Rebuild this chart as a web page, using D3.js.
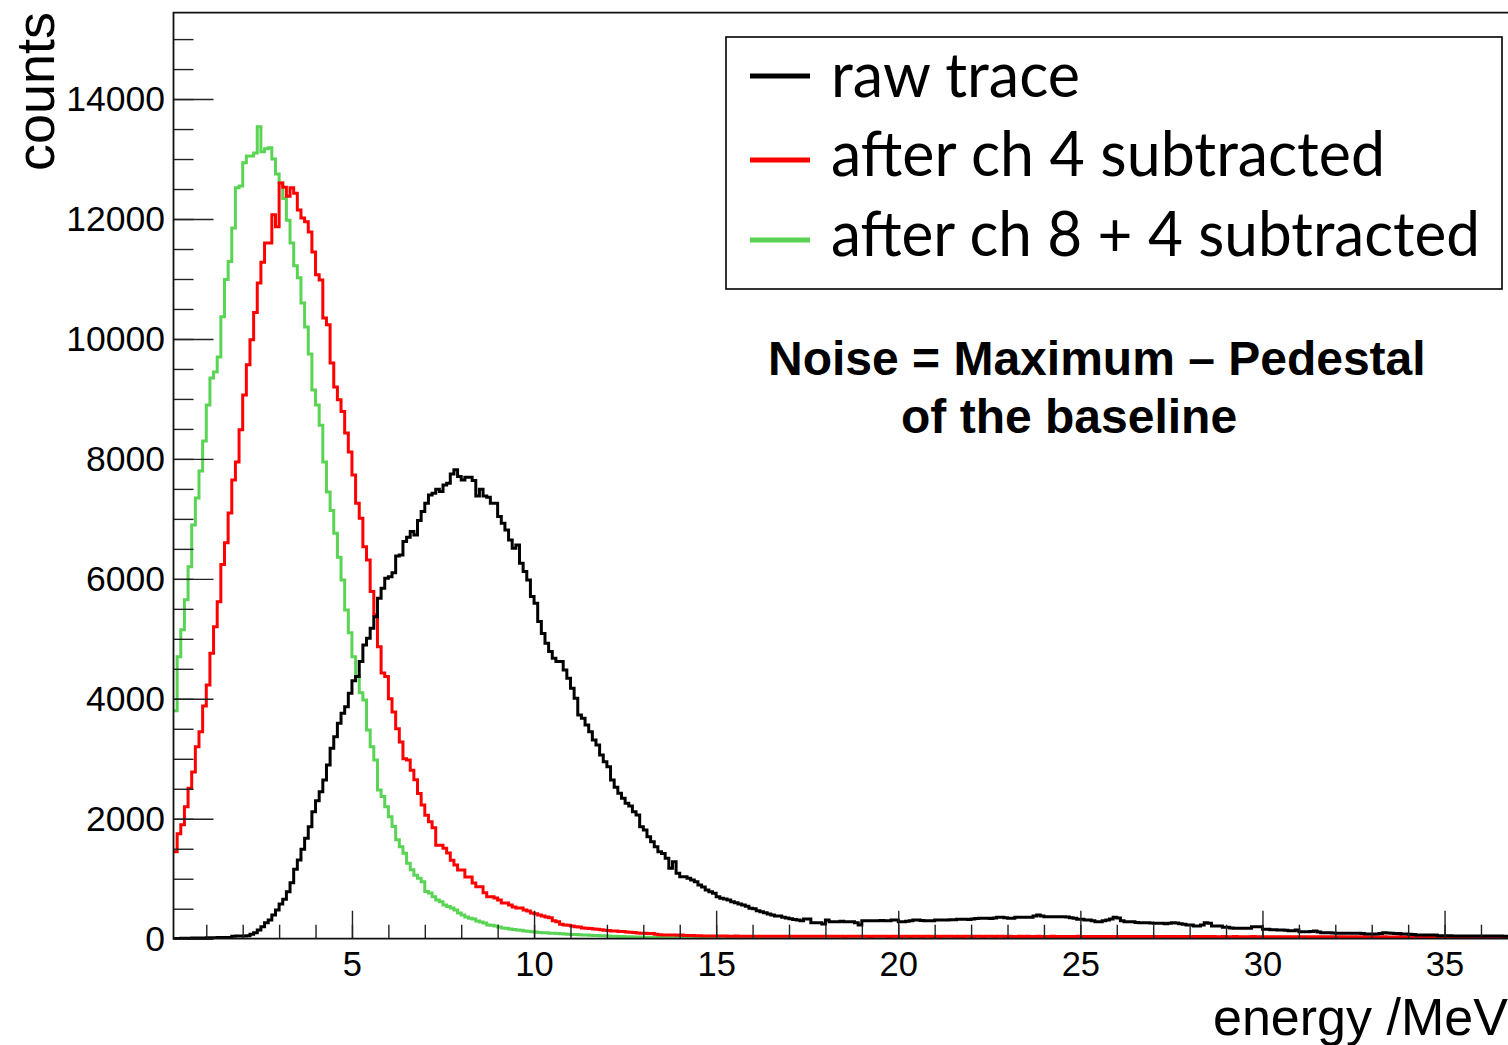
<!DOCTYPE html>
<html><head><meta charset="utf-8">
<script src="https://cdn.jsdelivr.net/npm/d3@7"></script>
<style>html,body{margin:0;padding:0;background:#fff;overflow:hidden}</style>
</head><body>
<svg id="chart" width="1508" height="1045"></svg>
<script>
// ---- data: histograms, bin width 0.1 MeV, first bin starts at 0.1 MeV ----
const binStart = 0.1;
const binWidth = 0.1;

const rawTrace = [
5,5,6,8,8,10,10,12,12,14,15,16,18,20,20,22,40,45,45,45,50,73,100,145,200,267,312,395,478,578,
657,784,934,1157,1313,1491,1674,1868,2118,2302,2452,2647,2897,3175,3369,3592,3759,3869,4093,4300,4370,4620,4898,5010,5177,5370,5677,5844,6011,6037,
6100,6383,6399,6621,6694,6788,6733,6971,7121,7261,7400,7428,7495,7455,7567,7595,7750,7820,7705,7650,7695,7695,7638,7383,7495,7383,7362,7261,7261,7038,
6928,6816,6649,6511,6566,6261,6121,5982,5704,5594,5287,5090,4927,4787,4677,4620,4620,4481,4343,4176,4009,3731,3676,3565,3452,3314,3230,3064,2952,2869,
2647,2525,2425,2342,2258,2213,2118,2063,1868,1813,1701,1618,1534,1451,1420,1341,1174,1284,1091,1034,1034,1007,979,950,896,860,813,784,757,700,
674,660,645,617,600,579,562,540,507,500,467,450,434,410,395,379,379,356,345,
334,320,310,300,329,329,267,267,267,245,
312,284,284,284,290,284,284,284,267,228,
300,300,300,300,300,305,300,300,312,312,
284,284,290,300,312,312,305,300,300,300,
310,312,312,312,318,318,324,324,324,320,
330,335,340,340,340,335,345,357,357,350,
340,340,357,357,357,357,357,379,395,379,
367,367,367,367,367,367,360,350,340,324,
324,312,312,300,284,284,300,312,330,357,
345,300,284,284,284,270,267,267,267,260,
257,257,257,250,257,267,260,250,240,228,
228,212,212,228,267,257,212,212,212,190,
190,180,173,173,173,173,173,200,200,200,
157,157,150,150,145,145,140,133,133,145,
117,117,117,120,128,110,100,100,100,95,
90,90,90,90,90,90,90,88,78,78,
78,78,85,100,95,90,88,85,80,78,
75,70,62,62,62,62,62,60,50,50,
48,48,47,45,45,45,46,45,44,45,
44,45,44,43,44,43,42,42,40,40
];

const afterCh4 = [
1450,1750,1900,2200,2510,2780,3200,3450,3880,4230,4760,5200,5620,6240,6600,7100,7650,7950,8485,9065,9570,9985,10440,10935,11280,11600,11600,12070,11870,12600,
12530,12380,12520,12430,12150,12015,11955,11785,11450,11070,10985,10350,10235,9600,9200,8985,8790,8430,8115,7730,7260,7010,6535,6315,5790,5400,4870,4430,4370,4000,
3780,3500,3280,3000,2980,2810,2650,2420,2230,2060,1950,1850,1560,1560,1510,1430,1310,1230,1145,1145,1030,1030,930,865,865,765,700,700,680,645,
595,595,560,530,510,510,480,460,430,415,395,380,360,350,300,283,240,228,225,210,200,195,180,175,170,160,157,150,140,135,
130,128,120,118,110,107,105,95,92,90,88,86,75,65,62,62,60,62,58,60,55,55,52,50,48,45,45,45,44,
44,43,44,42,42,43,41,42,40,42,
41,40,42,40,41,40,40,42,41,40,
40,41,39,40,42,40,39,40,41,39,
40,39,40,42,40,38,40,39,40,41,
39,40,38,40,39,41,40,38,39,40,
38,40,39,38,40,41,38,39,40,38,
39,38,40,39,41,38,39,38,40,39,
38,40,39,38,39,40,38,39,41,38,
39,38,37,39,38,40,38,37,39,38,
37,38,39,37,38,36,38,37,38,39,
37,36,38,37,36,38,37,36,37,38,
36,37,36,38,36,35,37,36,35,36,
35,36,35,37,35,36,34,35,36,35,
34,35,36,34,35,34,35,33,34,35,
34,33,35,34,33,34,33,35,33,34,
33,34,32,33,34,32,33,32,34,33,
32,33,32,31,33,32,31,32,33,31,
31,32,31,30,32,31,30,31,32,30,
31,30,29,31,30,29,30,31,29,30,
29,30,29,28,30,29,28,29,30,28,
29,28,27,29,28,27,28,29,27,28,
27,28,27,26,28,27,26,27,28,26
];

const afterCh8and4 = [
3800,4700,5150,5650,6200,6900,7350,7800,8300,8900,9350,9450,9700,10370,10990,11290,11850,12520,12550,12940,13050,13050,13100,13540,13120,13170,13190,13000,12750,12600,
12340,11980,11600,11220,11020,10600,10200,9750,9150,8900,8560,7950,7450,7140,6760,6360,5980,5480,5100,4700,4370,4100,3980,3480,3200,2980,2480,2370,2200,2035,
1870,1650,1535,1425,1260,1150,1060,1010,950,785,760,700,645,617,560,535,510,480,430,395,360,340,330,295,280,260,230,225,210,195,
180,175,160,155,145,140,130,125,115,110,105,100,98,92,90,85,82,78,75,72,70,66,62,60,58,55,52,50,48,45,
42,40,38,36,34,32,30,28,27,25,
24,23,22,22,21,21,20,20,19,19,
19,18,18,18,17,18,17,17,16,17,
16,17,16,15,17,16,15,16,17,15,
16,15,16,17,15,16,15,14,16,15,
15,16,14,15,16,15,14,15,16,14,
15,14,16,15,14,15,14,16,15,14,
14,15,14,13,15,14,15,13,14,15,
14,13,14,15,13,14,13,14,15,13,
13,14,13,14,12,13,14,13,12,14,
13,12,13,14,12,13,12,13,14,12,
12,13,12,11,13,12,13,12,11,12,
12,11,12,13,11,12,11,12,11,12,
11,12,11,10,12,11,12,10,11,12,
11,10,11,12,10,11,10,11,12,10,
10,11,10,9,11,10,11,10,9,10,
10,9,10,11,9,10,9,10,11,9,
9,10,9,8,10,9,10,9,8,9,
9,8,9,10,8,9,8,9,8,9,
8,9,8,7,9,8,9,8,7,8,
8,7,8,9,7,8,7,8,7,8,
7,8,7,6,8,7,8,7,6,7,
7,6,7,8,6,7,6,7,6,7,
6,7,6,5,7,6,7,6,5,6,
6,5,6,7,5,6,5,6,5
];

const seriesNames = ["raw trace", "after ch 4 subtracted", "after ch 8 + 4 subtracted"];
const seriesColors = ["#000000", "#ff0000", "#59d454"];
const yTickValues = [0, 2000, 4000, 6000, 8000, 10000, 12000, 14000];
const xTickValues = [5, 10, 15, 20, 25, 30, 35];
const xTitle = "energy /MeV";
const yTitle = "counts";
const noteLines = ["Noise = Maximum \u2013 Pedestal", "of the baseline"];

// ---- layout ----
const svg = d3.select("#chart");
const L = 173.5, T = 12.7, B = 938.7;
const pxPerMeV = 36.42;
const xMin = 0.1, xMax = 40, yMax = 15440;
const R = L + (xMax - xMin) * pxPerMeV;

const x = d3.scaleLinear().domain([xMin, xMax]).range([L, R]);
const y = d3.scaleLinear().domain([0, yMax]).range([B, T]);

svg.append("defs").append("clipPath").attr("id", "plotclip")
  .append("rect").attr("x", L).attr("y", T).attr("width", R - L).attr("height", B - T);

const axisFont = "'Liberation Sans', Arial, Helvetica, sans-serif";

// histogram paths
function stepPoints(vals) {
  const pts = [];
  vals.forEach((v, i) => {
    const e0 = binStart + i * binWidth;
    pts.push([e0, v], [e0 + binWidth, v]);
  });
  return pts;
}
const line = d3.line().x(d => x(d[0])).y(d => y(d[1]));
const series = [rawTrace, afterCh4, afterCh8and4];
const g = svg.append("g").attr("clip-path", "url(#plotclip)");
[2, 1, 0].forEach(i => {
  g.append("path").attr("d", line(stepPoints(series[i])))
    .attr("fill", "none").attr("stroke", seriesColors[i])
    .attr("stroke-width", 3).attr("stroke-linejoin", "miter");
});

// y axis
const yMinor = d3.range(0, yMax, 500);
svg.append("g").attr("transform", `translate(${L},0)`)
  .call(d3.axisLeft(y).tickValues(yMinor).tickSize(-20).tickSizeOuter(0).tickFormat(""))
  .call(a => a.select(".domain").remove())
  .call(a => a.selectAll("line").attr("stroke", "#222").attr("stroke-width", 1.4));
svg.append("g").attr("transform", `translate(${L},0)`)
  .call(d3.axisLeft(y).tickValues(yTickValues).tickSize(-40).tickSizeOuter(0).tickPadding(8.5).tickFormat(d3.format("d")))
  .call(a => a.select(".domain").remove())
  .call(a => a.selectAll("line").attr("stroke", "#222").attr("stroke-width", 1.4))
  .call(a => a.selectAll("text").attr("font-family", axisFont).attr("font-size", 35.5).attr("fill", "#000"));

// x axis
const xMinor = d3.range(1, xMax + 0.5, 1);
svg.append("g").attr("transform", `translate(0,${B})`)
  .call(d3.axisBottom(x).tickValues(xMinor).tickSize(-14).tickSizeOuter(0).tickFormat(""))
  .call(a => a.select(".domain").remove())
  .call(a => a.selectAll("line").attr("stroke", "#222").attr("stroke-width", 1.4));
svg.append("g").attr("transform", `translate(0,${B})`)
  .call(d3.axisBottom(x).tickValues(xTickValues).tickSize(-28).tickSizeOuter(0).tickPadding(13))
  .call(a => a.select(".domain").remove())
  .call(a => a.selectAll("line").attr("stroke", "#222").attr("stroke-width", 1.4))
  .call(a => a.selectAll("text").attr("font-family", axisFont).attr("font-size", 34.5).attr("fill", "#000"));

// frame
svg.append("path")
  .attr("d", `M${R},${B}H${L}V${T}H${R}`)
  .attr("fill", "none").attr("stroke", "#111").attr("stroke-width", 1.8);

// axis titles
svg.append("text").attr("x", 1213).attr("y", 1035)
  .attr("font-family", axisFont).attr("font-size", 52).attr("fill", "#000").text(xTitle);
svg.append("text").attr("transform", "translate(54,12) rotate(-90)")
  .attr("text-anchor", "end")
  .attr("font-family", axisFont).attr("font-size", 54).attr("fill", "#000").text(yTitle);

// annotation
svg.append("text").attr("x", 768).attr("y", 375)
  .attr("font-family", axisFont).attr("font-weight", "bold").attr("font-size", 48)
  .attr("fill", "#000").text(noteLines[0]);
svg.append("text").attr("x", 901).attr("y", 433)
  .attr("font-family", axisFont).attr("font-weight", "bold").attr("font-size", 48)
  .attr("fill", "#000").text(noteLines[1]);

// legend
const lg = svg.append("g");
lg.append("rect").attr("x", 726).attr("y", 37).attr("width", 776).attr("height", 252)
  .attr("fill", "#fff").attr("stroke", "#000").attr("stroke-width", 1.6);
const legY = [76, 160, 240];
const legTextY = [97, 176, 256];
const legWidths = [249, 554, 649];
seriesNames.forEach((name, i) => {
  lg.append("line").attr("x1", 750).attr("x2", 810).attr("y1", legY[i]).attr("y2", legY[i])
    .attr("stroke", seriesColors[i]).attr("stroke-width", 5);
  lg.append("text").attr("x", 831).attr("y", legTextY[i])
    .attr("font-family", "Lato, 'Open Sans', sans-serif").attr("font-size", 62)
    .attr("textLength", legWidths[i]).attr("lengthAdjust", "spacingAndGlyphs")
    .attr("fill", "#000").text(name);
});
</script>
</body></html>
